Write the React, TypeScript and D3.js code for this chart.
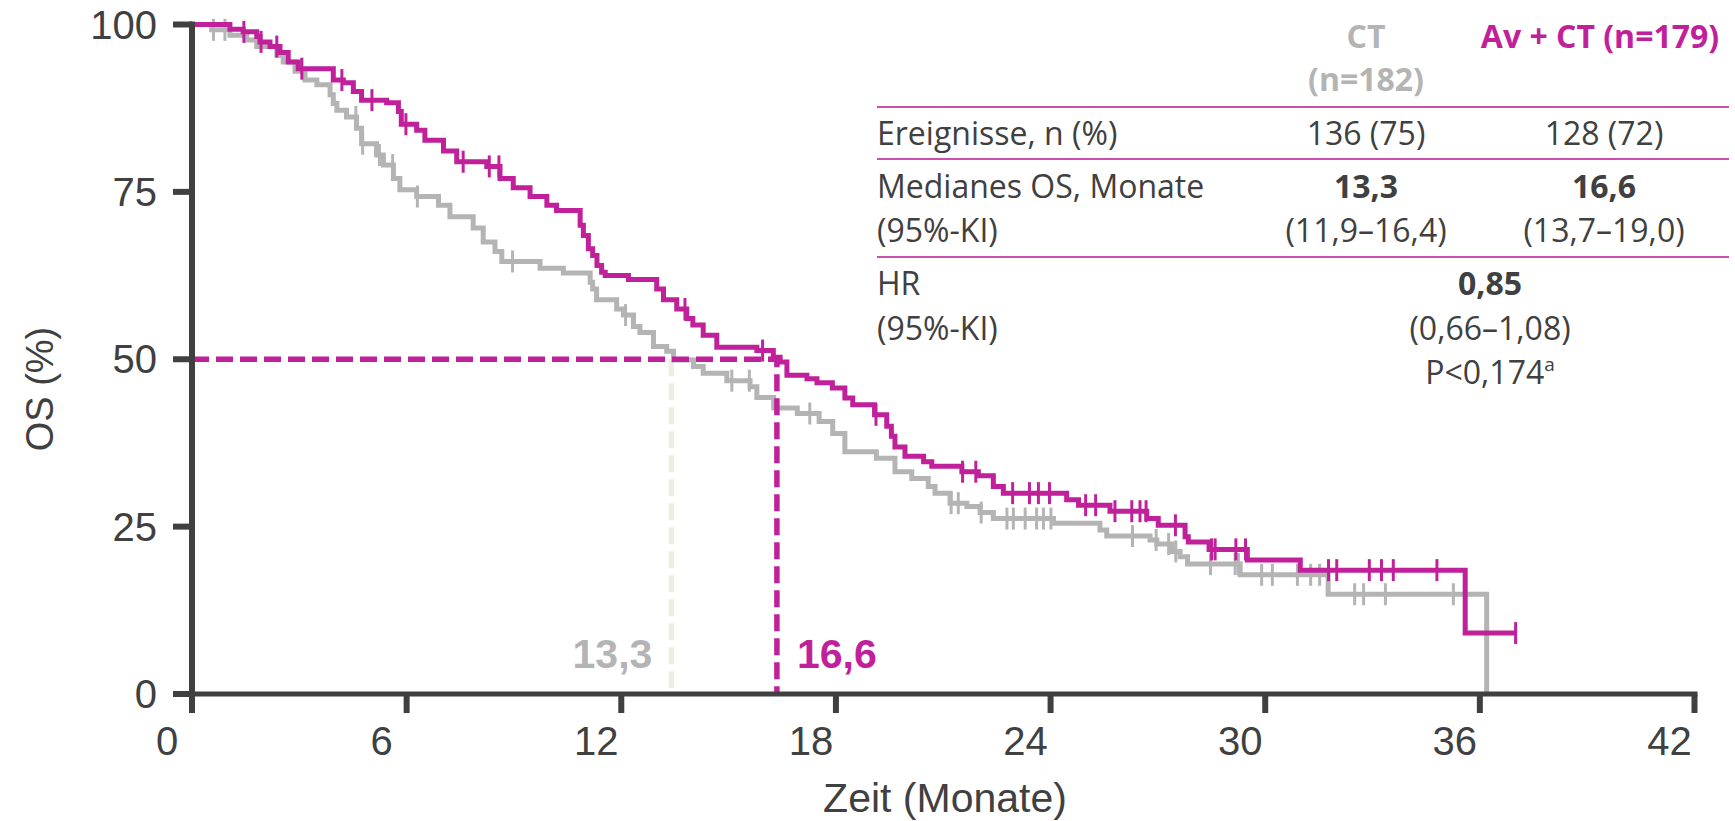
import * as d3 from 'd3'

const width = 1735
const height = 821

const xTicks = [0, 6, 12, 18, 24, 30, 36, 42]
const yTicks = [0, 25, 50, 75, 100]

// CT arm (grey): step times (months) and survival (%) after each step
const ctTimes = [0, 0.55, 1.06, 1.53, 1.81, 2.37, 2.55, 2.88, 3.16, 3.49, 3.86, 3.95, 4.05, 4.32, 4.6, 4.74, 5.16, 5.35, 5.63, 5.81, 6.28, 6.89, 7.21, 7.86, 8.14, 8.47, 8.66, 9.73, 10.38, 11.13, 11.2, 11.31, 11.87, 12.06, 12.34, 12.52, 12.9, 13.27, 13.46, 14.02, 14.29, 14.95, 15.6, 15.79, 16.26, 16.92, 17.53, 17.91, 18.25, 19.13, 19.65, 20.12, 20.58, 20.77, 21.19, 21.66, 22.03, 22.4, 24.08, 25.38, 25.57, 26.78, 26.97, 27.4, 27.62, 27.83, 29.3, 31.76, 36.19]
const ctSurv = [100, 99.2, 98.4, 97.7, 96.7, 95.4, 94.4, 93.0, 91.7, 91.0, 89.5, 88.2, 87.2, 86.2, 84.5, 82.2, 80.5, 79.0, 77.0, 75.3, 74.3, 73.0, 71.3, 69.6, 67.5, 66.1, 64.6, 63.6, 62.9, 61.5, 60.5, 58.9, 57.5, 56.6, 54.9, 54.0, 51.9, 51.2, 49.9, 48.9, 47.9, 46.8, 45.9, 44.3, 42.7, 41.9, 40.7, 38.9, 36.2, 35.2, 33.2, 32.2, 31.0, 30.0, 28.5, 28.0, 27.1, 26.2, 25.5, 24.5, 23.6, 23.0, 22.4, 21.3, 20.5, 19.4, 17.8, 14.9, 0]
const ctCensor = [0.6, 0.92, 4.58, 4.77, 5.24, 5.61, 6.3, 8.96, 12.12, 15.09, 15.58, 17.27, 21.22, 21.42, 22.06, 22.78, 22.96, 23.29, 23.61, 23.8, 24.01, 26.29, 26.95, 27.3, 27.5, 28.47, 29.16, 29.25, 29.9, 30.2, 30.9, 31.27, 31.52, 32.5, 32.75, 33.36, 35.26]

// Av + CT arm (magenta)
const avTimes = [0, 1.06, 1.43, 1.81, 1.9, 2.18, 2.46, 2.69, 2.97, 3.95, 4.23, 4.51, 4.74, 5.44, 5.77, 5.85, 6.28, 6.51, 7.03, 7.4, 8.24, 8.61, 8.98, 9.45, 9.92, 10.19, 10.85, 10.94, 11.08, 11.2, 11.32, 11.45, 11.55, 12.2, 12.99, 13.18, 13.55, 13.83, 14.0, 14.29, 14.67, 15.79, 16.25, 16.44, 16.63, 17.19, 17.47, 17.9, 18.25, 18.47, 19.08, 19.42, 19.55, 19.65, 19.93, 20.45, 20.68, 21.52, 21.98, 22.4, 22.68, 24.45, 24.78, 25.66, 26.69, 27.01, 27.76, 27.85, 28.43, 29.5, 30.98, 35.59, 37.0]
const avSurv = [100, 99.3, 98.9, 98.2, 97.4, 96.7, 95.8, 94.4, 93.4, 91.7, 91.3, 90.0, 88.7, 88.3, 87.0, 85.1, 84.2, 82.7, 81.1, 79.5, 78.8, 77.0, 75.6, 74.3, 73.0, 72.2, 70.0, 68.5, 66.5, 65.5, 64.0, 63.0, 62.5, 61.9, 60.5, 58.9, 57.5, 56.1, 55.1, 53.6, 51.8, 51.3, 50.3, 49.6, 47.6, 47.1, 46.5, 45.7, 44.2, 43.2, 41.7, 40.0, 38.5, 36.9, 35.5, 34.7, 34.0, 33.2, 32.6, 31.0, 30.0, 29.0, 28.2, 27.3, 26.2, 25.2, 23.5, 22.7, 21.6, 20.0, 18.5, 9.1, 9.1]
const avCensor = [1.45, 1.93, 2.37, 3.07, 4.19, 5.03, 5.98, 7.58, 8.31, 8.58, 13.78, 15.95, 19.12, 21.54, 21.91, 22.94, 23.41, 23.66, 23.97, 24.98, 25.26, 25.8, 26.27, 26.5, 26.67, 27.49, 28.5, 28.6, 29.18, 29.45, 31.77, 32.0, 32.91, 33.25, 33.58, 34.8, 37.0]

// medians: where the dashed lines are drawn, and their labels
const medianPos = [13.4, 16.35]
const medianLabels = ['13,3', '16,6']

const headers = ['CT', '(n=182)', 'Av + CT (n=179)']
const rowLabels = ['Ereignisse, n (%)', 'Medianes OS, Monate', '(95%-KI)', 'HR', '(95%-KI)']
const ctValues = ['136 (75)', '13,3', '(11,9–16,4)']
const avValues = ['128 (72)', '16,6', '(13,7–19,0)']
const hrValues = ['0,85', '(0,66–1,08)', 'P<0,174']

const grey = '#b4b4b4'
const magenta = '#c0219a'
const dark = '#404040'
const axisFont = '"Liberation Sans", Arial, sans-serif'
const tableFont = '"Open Sans", sans-serif'

function App() {
  const x = d3.scaleLinear().domain([0, 42]).range([192, 1694.5])
  const y = d3.scaleLinear().domain([0, 100]).range([694, 24.5])

  const line = d3.line<[number, number]>()
    .x(d => x(d[0]))
    .y(d => y(d[1]))
    .curve(d3.curveStepAfter)

  const ctPts = ctTimes.map((t, i) => [t, ctSurv[i]] as [number, number])
  const avPts = avTimes.map((t, i) => [t, avSurv[i]] as [number, number])

  const survAt = (times: number[], surv: number[], t: number) => {
    const i = d3.bisectRight(times, t) - 1
    return surv[Math.max(0, i)]
  }

  const tickH = 11

  const colCT = 1366
  const colAv = 1604
  const colHR = 1490
  const tableX = 877
  const ruleX2 = 1729

  return (
    <svg width={width} height={height} style={{ position: 'absolute', left: 0, top: 0, display: 'block' }}>
      <rect width={width} height={height} fill="#fff" />

      {/* grey median dashed line */}
      <line x1={x(medianPos[0])} x2={x(medianPos[0])} y1={y(50)} y2={y(0)}
        stroke="#efeee3" strokeWidth={5.5} strokeDasharray="17 7" />

      {/* CT curve */}
      <path d={line(ctPts) ?? ''} fill="none" stroke={grey} strokeWidth={5} />
      {ctCensor.map((t, i) => {
        const yy = y(survAt(ctTimes, ctSurv, t))
        return <line key={'cc' + i} x1={x(t)} x2={x(t)} y1={yy - tickH} y2={yy + tickH} stroke={grey} strokeWidth={3} />
      })}

      {/* Av + CT curve */}
      <path d={line(avPts) ?? ''} fill="none" stroke={magenta} strokeWidth={5} />
      {avCensor.map((t, i) => {
        const yy = y(survAt(avTimes, avSurv, t))
        return <line key={'ac' + i} x1={x(t)} x2={x(t)} y1={yy - tickH} y2={yy + tickH} stroke={magenta} strokeWidth={3} />
      })}

      {/* magenta median dashed lines */}
      <path d={`M${x(0)},${y(50)}H${x(medianPos[1])}V${y(0)}`} fill="none"
        stroke={magenta} strokeWidth={5.5} strokeDasharray="17 7" />

      {/* median labels */}
      <text x={x(medianPos[0]) - 19} y={668} textAnchor="end" fontFamily={axisFont} fontWeight="bold"
        fontSize={41} fill={grey}>{medianLabels[0]}</text>
      <text x={x(medianPos[1]) + 20} y={668} textAnchor="start" fontFamily={axisFont} fontWeight="bold"
        fontSize={41} fill={magenta}>{medianLabels[1]}</text>

      {/* axes */}
      <g stroke={dark} strokeWidth={5}>
        <line x1={x(0)} x2={x(0)} y1={y(100) - 3} y2={713} strokeWidth={6} />
        <line x1={x(0)} x2={x(42) + 3} y1={y(0)} y2={y(0)} />
        {yTicks.map(t => (
          <line key={'yt' + t} x1={173} x2={x(0)} y1={y(t)} y2={y(t)} strokeWidth={6} />
        ))}
        {xTicks.slice(1).map(t => (
          <line key={'xt' + t} x1={x(t)} x2={x(t)} y1={y(0)} y2={713} strokeWidth={6} />
        ))}
      </g>
      {yTicks.map(t => (
        <text key={'yl' + t} x={157} y={y(t) + 14} textAnchor="end" fontFamily={axisFont}
          fontSize={40} fill={dark}>{t}</text>
      ))}
      {xTicks.map(t => (
        <text key={'xl' + t} x={x(t) - 25} y={755} textAnchor="middle" fontFamily={axisFont}
          fontSize={40} fill={dark}>{t}</text>
      ))}
      <text x={945} y={812} textAnchor="middle" fontFamily={axisFont} fontSize={41} fill={dark}>Zeit (Monate)</text>
      <text transform="translate(53,389) rotate(-90)" textAnchor="middle" fontFamily={axisFont}
        fontSize={38} fill={dark}>OS (%)</text>

      {/* table */}
      <g fontFamily={tableFont} fontSize={32} fill={dark}>
        <text x={colCT} y={48} textAnchor="middle" fontWeight="bold" fill={grey}>{headers[0]}</text>
        <text x={colCT} y={91} textAnchor="middle" fontWeight="bold" fill={grey}>{headers[1]}</text>
        <text x={1600} y={48} textAnchor="middle" fontWeight="bold" fill={magenta}>{headers[2]}</text>

        <line x1={tableX} x2={ruleX2} y1={107} y2={107} stroke="#cc4fae" strokeWidth={2} />
        <line x1={tableX} x2={ruleX2} y1={159} y2={159} stroke="#cc4fae" strokeWidth={2} />
        <line x1={tableX} x2={ruleX2} y1={257} y2={257} stroke="#cc4fae" strokeWidth={2} />

        <text x={tableX} y={145}>{rowLabels[0]}</text>
        <text x={tableX} y={198}>{rowLabels[1]}</text>
        <text x={tableX} y={242}>{rowLabels[2]}</text>
        <text x={tableX} y={295}>{rowLabels[3]}</text>
        <text x={tableX} y={340}>{rowLabels[4]}</text>

        <text x={colCT} y={145} textAnchor="middle">{ctValues[0]}</text>
        <text x={colCT} y={198} textAnchor="middle" fontWeight="bold">{ctValues[1]}</text>
        <text x={colCT} y={242} textAnchor="middle">{ctValues[2]}</text>

        <text x={colAv} y={145} textAnchor="middle">{avValues[0]}</text>
        <text x={colAv} y={198} textAnchor="middle" fontWeight="bold">{avValues[1]}</text>
        <text x={colAv} y={242} textAnchor="middle">{avValues[2]}</text>

        <text x={colHR} y={295} textAnchor="middle" fontWeight="bold">{hrValues[0]}</text>
        <text x={colHR} y={340} textAnchor="middle">{hrValues[1]}</text>
        <text x={colHR} y={384} textAnchor="middle">{hrValues[2]}<tspan fontSize={19} dy={-13}>a</tspan></text>
      </g>
    </svg>
  )
}

export default App
